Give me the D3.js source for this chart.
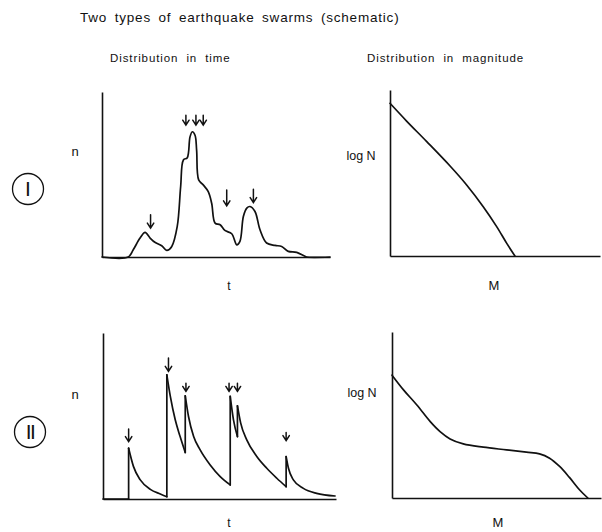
<!DOCTYPE html>
<html>
<head>
<meta charset="utf-8">
<script src="https://cdn.jsdelivr.net/npm/d3@7"></script>
<style>
  html, body { margin: 0; padding: 0; background: #fff; }
  svg { display: block; }
  text { fill: #111; font-family: "Liberation Sans", "DejaVu Sans", sans-serif; }
</style>
</head>
<body>
<svg id="chart" width="602" height="532"></svg>
<script>
// ---- Type I swarm: smooth rate curve n(t), with arrows marking large shocks ----
const swarm1Time = [0, 11.5, 13.7, 16.7, 18.9, 21.1, 23.2, 26.2, 28.4, 30.6, 33.0, 34.5, 35.7, 37.4, 38.6, 39.6, 40.8, 41.5, 42.4, 44.4, 46.6, 48.1, 49.6, 51.8, 53.9, 56.9, 59.1, 60.5, 62.0, 63.5, 64.9, 67.1, 69.3, 72.2, 75.9, 78.8, 81.7, 85.4, 89.0, 89.8, 100];
const swarm1Rate = [0, 0, 4.4, 11.5, 14.9, 11.5, 8.9, 6.8, 4.0, 6.4, 18.5, 42.7, 58.8, 60.2, 72.8, 75.9, 73.8, 64.8, 46.7, 43.7, 39.6, 32.6, 20.5, 19.5, 16.1, 14.1, 7.4, 9.5, 24.5, 29.6, 30.6, 27.6, 16.5, 8.5, 7.0, 6.4, 3.4, 2.8, 0.4, 0, 0];
// arrows: time, top and bottom of the shaft (in n units)
const swarm1ArrowTime = [21.3, 36.8, 41.2, 44.4, 54.7, 66.4];
const swarm1ArrowTop  = [25.6, 85.9, 85.9, 85.9, 40.6, 41.0];
const swarm1ArrowTip  = [17.5, 79.9, 79.9, 79.9, 31.0, 33.0];

// ---- Type I magnitude distribution: log N against M ----
const mag1M    = [0, 7.9, 17.5, 28.6, 36.5, 44.4, 50.8, 55.6, 59.5];
const mag1LogN = [92.0, 81.3, 68.9, 54.2, 42.8, 29.7, 17.7, 7.6, 0];

// ---- Type II swarm: sudden jumps followed by aftershock decay ----
const swarm2JumpTime = [11.0, 27.4, 35.3, 54.6, 57.7, 78.6];
const swarm2JumpPeak = [30.6, 74.8, 62.2, 61.8, 56.1, 25.6];
const swarm2DecayTime = [
  [11.0, 13.1, 16.0, 20.3, 24.6, 27.4],
  [27.4, 28.9, 31.0, 33.1, 35.3],
  [35.3, 36.7, 38.9, 41.7, 46.0, 50.3, 54.6],
  [54.6, 56.0, 57.7],
  [57.7, 59.1, 61.7, 66.0, 70.3, 74.6, 78.6],
  [78.6, 79.6, 81.7, 86.0, 91.7, 99.6]
];
const swarm2DecayRate = [
  [30.6, 19.5, 11.5, 5.8, 3.0, 1.4],
  [74.8, 61.8, 47.7, 37.6, 28.0],
  [62.2, 49.7, 37.6, 29.6, 20.5, 13.5, 8.5],
  [61.8, 47.7, 37.6],
  [56.1, 45.7, 35.6, 25.6, 18.5, 12.5, 7.4],
  [25.6, 18.5, 11.5, 6.4, 3.4, 1.8]
];
const swarm2ArrowTime = [11.0, 28.1, 35.6, 54.1, 57.7, 78.6];
const swarm2ArrowTop  = [42.1, 84.9, 69.8, 69.8, 69.8, 40.0];
const swarm2ArrowTip  = [34.6, 76.9, 64.8, 64.8, 64.8, 35.2];

// ---- Type II magnitude distribution ----
const mag2M    = [0, 5.6, 11.9, 18.3, 23.0, 27.8, 34.1, 43.7, 54.8, 64.3, 70.6, 75.4, 80.2, 84.9, 89.7, 93.7];
const mag2LogN = [74, 65, 56, 46, 40, 35.6, 32.6, 30.6, 29.0, 27.6, 26.6, 24.0, 19.0, 12.4, 5.0, 0];

const svg = d3.select("#chart");
const ink = "#111";

// title and column headings
svg.append("text").attr("x", 80).attr("y", 22)
  .attr("font-size", 13.5).attr("letter-spacing", 0.8).attr("word-spacing", 3)
  .text("Two types of earthquake swarms (schematic)");
svg.append("text").attr("x", 110).attr("y", 62)
  .attr("font-size", 11.5).attr("letter-spacing", 0.9).attr("word-spacing", 4)
  .text("Distribution in time");
svg.append("text").attr("x", 367).attr("y", 62)
  .attr("font-size", 11.5).attr("letter-spacing", 0.9).attr("word-spacing", 4)
  .text("Distribution in magnitude");

// one set of axes per panel
function panel(left, right, top, bottom) {
  const x = d3.scaleLinear().domain([0, 100]).range([left, right]);
  const y = d3.scaleLinear().domain([0, 100]).range([bottom, top]);
  const g = svg.append("g");
  g.append("g").attr("transform", `translate(0,${bottom})`)
    .call(d3.axisBottom(x).ticks(0).tickSizeOuter(0));
  g.append("g").attr("transform", `translate(${left},0)`)
    .call(d3.axisLeft(y).ticks(0).tickSizeOuter(0));
  g.selectAll(".domain").attr("stroke", ink).attr("stroke-width", 1.6);
  return { x, y, g };
}

function curve(p, xs, ys, c) {
  const line = d3.line().x(d => p.x(d[0])).y(d => p.y(d[1])).curve(c || d3.curveLinear);
  p.g.append("path").datum(xs.map((v, i) => [v, ys[i]]))
    .attr("d", line).attr("fill", "none").attr("stroke", ink)
    .attr("stroke-width", 1.7).attr("stroke-linejoin", "round").attr("stroke-linecap", "round");
}

function arrows(p, ts, tops, tips) {
  ts.forEach((t, i) => {
    const x = p.x(t), y0 = p.y(tops[i]), y1 = p.y(tips[i]);
    p.g.append("path")
      .attr("d", `M${x},${y0}L${x},${y1}M${x - 3.2},${y1 - 5}L${x},${y1}L${x + 3.2},${y1 - 5}`)
      .attr("fill", "none").attr("stroke", ink).attr("stroke-width", 1.5)
      .attr("stroke-linecap", "round").attr("stroke-linejoin", "miter");
  });
}

function roman(cx, cy, label) {
  svg.append("circle").attr("cx", cx).attr("cy", cy).attr("r", 15.5)
    .attr("fill", "none").attr("stroke", ink).attr("stroke-width", 1.3);
  svg.append("text").attr("x", cx).attr("y", cy + 7).attr("text-anchor", "middle")
    .attr("font-family", "Liberation Serif, DejaVu Serif, serif")
    .attr("font-size", 21).attr("letter-spacing", label.length > 1 ? -1.5 : 0)
    .text(label);
}

function label(x, y, s, size) {
  svg.append("text").attr("x", x).attr("y", y).attr("text-anchor", "middle")
    .attr("font-size", size || 13).text(s);
}

// Type I, time
const pTL = panel(102, 330, 92, 257);
curve(pTL, swarm1Time, swarm1Rate, d3.curveCatmullRom.alpha(0.5));
arrows(pTL, swarm1ArrowTime, swarm1ArrowTop, swarm1ArrowTip);

// Type I, magnitude
const pTR = panel(390, 600, 90, 256);
curve(pTR, mag1M, mag1LogN, d3.curveCatmullRom.alpha(0.5));

// Type II, time
const pBL = panel(103, 336, 333, 499);
curve(pBL, [0, swarm2JumpTime[0]], [0, 0]);
swarm2JumpTime.forEach((t, i) => {
  const before = i === 0 ? 0 : swarm2DecayRate[i - 1][swarm2DecayRate[i - 1].length - 1];
  curve(pBL, [t, t], [before, swarm2JumpPeak[i]]);
  curve(pBL, swarm2DecayTime[i], swarm2DecayRate[i], d3.curveMonotoneX);
});
arrows(pBL, swarm2ArrowTime, swarm2ArrowTop, swarm2ArrowTip);

// Type II, magnitude
const pBR = panel(392, 601, 332, 498);
curve(pBR, mag2M, mag2LogN, d3.curveCatmullRom.alpha(0.5));

// axis names and swarm type markers
label(75, 156, "n", 13);
label(229, 290, "t", 12);
label(494, 290, "M", 13);
label(361, 160, "log N", 12.5);
roman(28, 189, "I");

label(75, 399, "n", 13);
label(229, 527, "t", 12);
label(498, 527, "M", 13);
label(362, 397, "log N", 12.5);
roman(30, 432, "II");
</script>
</body>
</html>
